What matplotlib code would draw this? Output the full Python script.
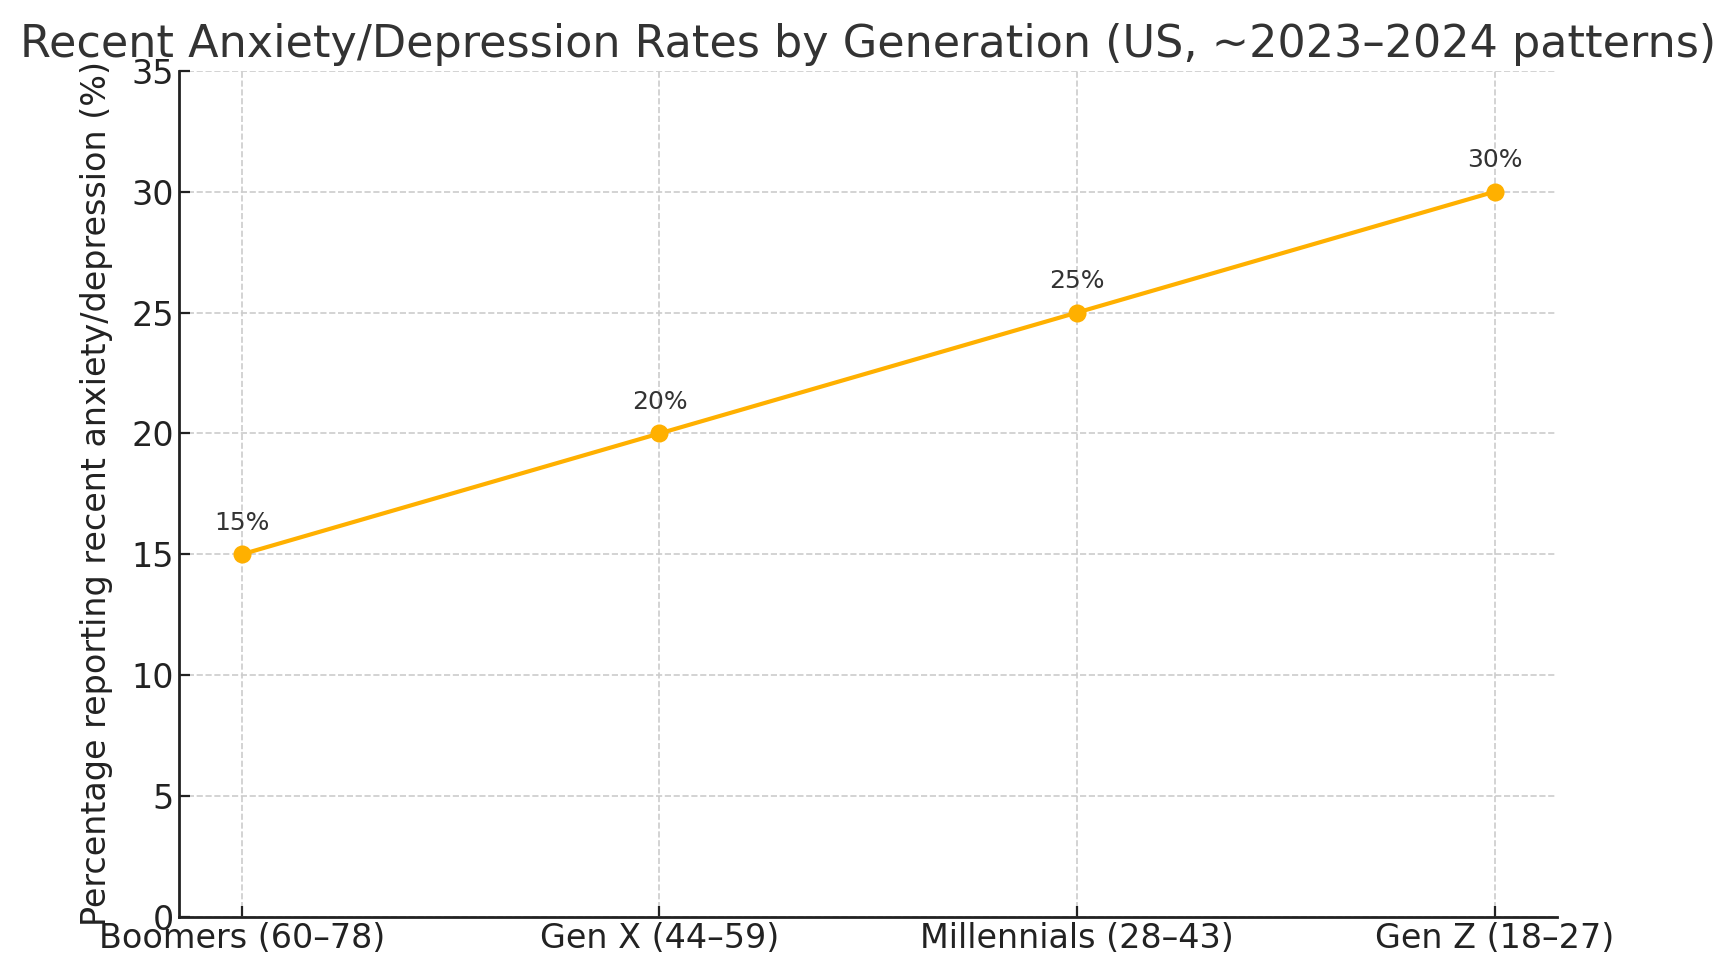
import matplotlib.pyplot as plt

generations = ['Boomers (60–78)', 'Gen X (44–59)', 'Millennials (28–43)', 'Gen Z (18–27)']
rates = [15, 20, 25, 30]
yticks = [0, 5, 10, 15, 20, 25, 30, 35]

fig = plt.figure(figsize=(8.68, 4.9), dpi=200)
ax = fig.add_axes([0.1033, 0.0644, 0.7937, 0.8633])

x = list(range(len(generations)))
ax.plot(x, rates, color='#FFB000', linewidth=1.5, marker='o', markersize=5.5, zorder=3)

for xi, r in zip(x, rates):
    ax.annotate(f'{r}%', (xi, r), xytext=(0, 7), textcoords='offset points',
                ha='center', va='bottom', fontsize=9, color='#333333')

ax.set_xticks(x)
ax.set_xticklabels(generations)
ax.set_yticks(yticks)
ax.set_ylim(0, 35)
ax.tick_params(direction='in', labelsize=12, colors='#222222', length=4, pad=2)
ax.grid(True, linestyle='--', color='#cccccc', linewidth=0.6)
ax.set_axisbelow(True)
for s in ['top', 'right']:
    ax.spines[s].set_visible(False)
for s in ['left', 'bottom']:
    ax.spines[s].set_color('#222222')
    ax.spines[s].set_linewidth(1.0)

ax.set_ylabel('Percentage reporting recent anxiety/depression (%)', fontsize=12, color='#222222', labelpad=6.5)
ax.set_title('Recent Anxiety/Depression Rates by Generation (US, ~2023–2024 patterns)',
             fontsize=16, color='#333333', pad=5)

fig.savefig('out.png', dpi=200)
